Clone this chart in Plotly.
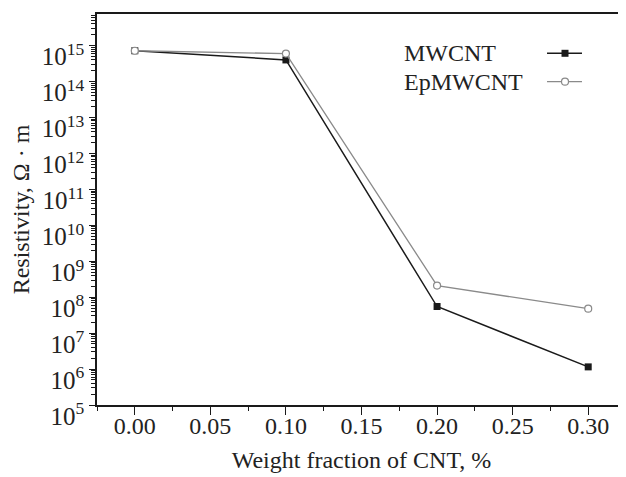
import plotly.graph_objects as go

# Data
weight_fraction = [0.0, 0.1, 0.2, 0.3]
mwcnt = [7.2e14, 4.0e14, 5.5e7, 1.15e6]
ep_mwcnt = [7.2e14, 6.0e14, 2.1e8, 4.8e7]

y_exponents = list(range(5, 16))
y_tickvals = [10.0 ** e for e in y_exponents]
y_ticktext = [f"10<sup>{e}</sup>" for e in y_exponents]
y_minorvals = [k * 10.0 ** e for e in range(5, 16) for k in range(2, 10)]
x_minorvals = [-0.025 + 0.05 * i for i in range(8)]

FONT = "Liberation Serif"
TXT = "#222222"
BLACK = "#1a1a1a"
GRAY = "#8a8a8a"

fig = go.Figure()
fig.add_trace(go.Scatter(
    x=weight_fraction, y=mwcnt, mode="lines+markers", name="MWCNT",
    line=dict(color=BLACK, width=1.5),
    marker=dict(symbol="square", size=7, color=BLACK, line=dict(width=0)),
    showlegend=False,
))
fig.add_trace(go.Scatter(
    x=weight_fraction, y=ep_mwcnt, mode="lines+markers", name="EpMWCNT",
    line=dict(color=GRAY, width=1.3),
    marker=dict(symbol="circle", size=7, color="white", line=dict(color=GRAY, width=1.2)),
    showlegend=False,
))

# Legend drawn as text on the left and sample on the right (as in the reference)
legend_items = [("MWCNT", 0.8995, BLACK, "rect", BLACK, 1.5),
                ("EpMWCNT", 0.827, GRAY, "circle", "white", 1.2)]
shapes = []
annotations = []
for label, ypos, col, shp, fill, lw in legend_items:
    annotations.append(dict(x=0.576, y=ypos, xref="paper", yref="paper", text=label,
                            showarrow=False, xanchor="left", yanchor="middle",
                            font=dict(family=FONT, size=24, color=TXT)))
    shapes.append(dict(type="line", xref="paper", yref="paper", x0=0.8507, x1=0.9168,
                       y0=ypos, y1=ypos, line=dict(color=col, width=lw)))
    shapes.append(dict(type=shp, xref="paper", yref="paper",
                       xsizemode="pixel", ysizemode="pixel",
                       xanchor=0.8847, yanchor=ypos, x0=-3.5, x1=3.5, y0=-3.5, y1=3.5,
                       fillcolor=fill, line=dict(color=col, width=1.2 if shp == "circle" else 0)))

fig.update_layout(
    width=618, height=469,
    margin=dict(l=89, r=0, t=6, b=72),
    paper_bgcolor="white", plot_bgcolor="white",
    font=dict(family=FONT, size=24, color=TXT),
    shapes=shapes, annotations=annotations,
    xaxis=dict(
        range=[-0.025, 0.325], tick0=0, dtick=0.05, tickformat=".2f",
        ticks="outside", ticklen=8, tickwidth=1.2, tickcolor=BLACK,
        minor=dict(tickmode="array", tickvals=x_minorvals, ticks="outside",
                   ticklen=4, tickwidth=1.2, tickcolor=BLACK),
        showline=True, linecolor=BLACK, linewidth=1.5, mirror=True,
        showgrid=False, zeroline=False, automargin=False,
        ticklabelstandoff=-10,
        tickfont=dict(family=FONT, size=24, color=TXT),
        title=dict(text="Weight fraction of CNT, %", standoff=14,
                   font=dict(family=FONT, size=24, color=TXT)),
    ),
    yaxis=dict(
        type="log", range=[5, 15.88],
        tickmode="array", tickvals=y_tickvals, ticktext=y_ticktext,
        ticks="outside", ticklen=6, tickwidth=1.2, tickcolor=BLACK,
        minor=dict(tickmode="array", tickvals=y_minorvals, ticks="outside",
                   ticklen=4, tickwidth=1, tickcolor=BLACK),
        showline=True, linecolor=BLACK, linewidth=1.5, mirror=False,
        showgrid=False, zeroline=False, automargin=False,
        ticklabelshift=11,
        tickfont=dict(family=FONT, size=25, color=TXT),
        title=dict(text="Resistivity, Ω · m", standoff=6,
                   font=dict(family=FONT, size=24, color=TXT)),
    ),
)

fig.write_html("out.html")
